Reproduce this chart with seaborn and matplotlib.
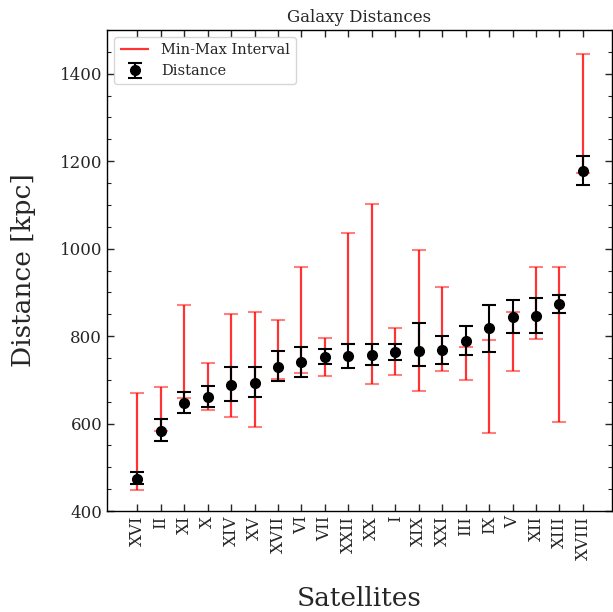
import numpy as np
import matplotlib
matplotlib.use("Agg")
import matplotlib.pyplot as plt
from matplotlib.ticker import AutoMinorLocator, MultipleLocator
import seaborn as sns

# Satellite galaxies, ordered by distance
satellites = ["XVI", "II", "XI", "X", "XIV", "XV", "XVII", "VI", "VII", "XXII",
              "XX", "I", "XIX", "XXI", "III", "IX", "V", "XII", "XIII", "XVIII"]

# Adopted distance with its lower / upper uncertainty bound [kpc]
distance = [474, 584, 647, 660, 689, 693, 730, 740, 753, 754,
            757, 764, 765, 768, 789, 818, 844, 846, 873, 1178]
dist_lower = [461, 559, 625, 637, 652, 660, 698, 707, 736, 727,
              733, 746, 731, 737, 757, 764, 806, 808, 853, 1146]
dist_upper = [489, 610, 673, 685, 729, 730, 765, 775, 770, 783,
              781, 781, 831, 800, 823, 872, 883, 886, 894, 1211]

# Spread of literature values [kpc]
min_dist = [448, 583, 659, 632, 616, 593, 703, 716, 709, 783,
            691, 711, 675, 720, 700, 578, 721, 793, 603, 1172]
max_dist = [670, 683, 871, 739, 850, 856, 837, 957, 795, 1035,
            1101, 818, 996, 912, 774, 791, 856, 957, 957, 1444]

sns.set_theme(style="ticks", context="notebook")
plt.rcParams["font.family"] = ["DejaVu Serif"]
plt.rcParams.update({
    "xtick.direction": "in",
    "ytick.direction": "in",
    "xtick.top": True,
    "ytick.right": True,
    "axes.linewidth": 1.0,
    "axes.edgecolor": "black",
})

fig = plt.figure(figsize=(6.13, 6.12), dpi=100)
ax = fig.add_axes([107 / 613, 1 - 511 / 612, 505 / 613, (511 - 30) / 612])

x = np.arange(len(satellites))
d = np.array(distance)
lo = np.array(dist_lower)
hi = np.array(dist_upper)
mn = np.array(min_dist)
mx = np.array(max_dist)

# Min-max interval in red with end caps
ax.vlines(x, mn, mx, colors="red", alpha=0.8, linewidth=1.6,
          label="Min-Max Interval", zorder=2)
ax.plot(x, mn, ls="none", marker="_", ms=10, mew=1.5, color="red", alpha=0.5, zorder=2)
ax.plot(x, mx, ls="none", marker="_", ms=10, mew=1.5, color="red", alpha=0.5, zorder=2)

# Adopted distances
ax.errorbar(x, d, yerr=[d - lo, hi - d], fmt="o", color="black", ms=7,
            ecolor="black", elinewidth=1.5, capsize=5, capthick=1.5,
            label="Distance", zorder=3)

ax.set_xticks(x)
ax.set_xticklabels(satellites, rotation=90, fontsize=12)
ax.set_xlim(-1.29, 20.24)
ax.set_ylim(400, 1500)
ax.yaxis.set_major_locator(MultipleLocator(200))
ax.yaxis.set_minor_locator(AutoMinorLocator(4))
ax.tick_params(axis="y", which="major", labelsize=12, length=5, width=1)
ax.tick_params(axis="y", which="minor", length=3, width=0.8, direction="in", right=True)
ax.tick_params(axis="x", which="major", length=5, width=1)

ax.set_xlabel("Satellites", fontsize=19, labelpad=19)
ax.set_ylabel("Distance [kpc]", fontsize=19, labelpad=17)
ax.set_title("Galaxy Distances", fontsize=12)

ax.legend(loc="upper left", fontsize=10.5, frameon=True, framealpha=0.8,
          edgecolor="0.8", fancybox=True)

fig.savefig("out.png", dpi=100)
